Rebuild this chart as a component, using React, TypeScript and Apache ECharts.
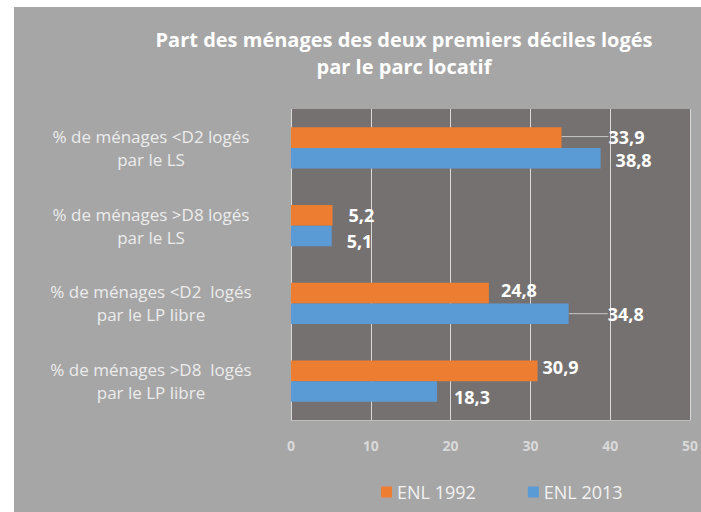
import React, { useEffect, useRef } from "react";
import * as echarts from "echarts";

const categories = [
  "% de ménages <D2 logés\npar le LS",
  "% de ménages >D8 logés\npar le LS",
  "% de ménages <D2  logés\npar le LP libre",
  "% de ménages >D8  logés\npar le LP libre",
];
const seriesNames = ["ENL 1992", "ENL 2013"];
const values1992 = [33.9, 5.2, 24.8, 30.9];
const values2013 = [38.8, 5.1, 34.8, 18.3];
const xTicks = { min: 0, max: 50, interval: 10 };
const titleText = "Part des ménages des deux premiers déciles logés\npar le parc locatif";

// label nudges (style only): [seriesIndex][dataIndex] -> [dx, dy]
const labelShift: number[][][] = [
  [[35, -1], [4, 0], [0, -3], [-7, -4]],
  [[3, 2], [3, 5], [27, 0], [5, 6]],
];
// which labels get a leader line (style only)
const leader: boolean[][] = [
  [true, false, false, false],
  [false, false, true, false],
];

export default function App() {
  const ref = useRef<HTMLDivElement>(null);
  useEffect(() => {
    if (!ref.current) return;
    const chart = echarts.init(ref.current, null, { renderer: "svg" });
    const fmt = (p: any) => Number(p.value).toFixed(1).replace(".", ",");
    const labelCommon = {
      show: true,
      position: "right" as const,
      distance: 12,
      color: "#ffffff",
      fontWeight: "bold" as const,
      fontSize: 18,
      fontFamily: "Open Sans",
      formatter: fmt,
    };
    const mkData = (vals: number[], si: number) =>
      vals.map((v, i) => ({
        value: v,
        labelLine: { show: leader[si][i] },
      }));
    const mkSeries = (si: number, vals: number[], color: string) => ({
      name: seriesNames[si],
      type: "bar",
      data: mkData(vals, si),
      itemStyle: { color },
      barGap: "0%",
      barCategoryGap: "47%",
      label: labelCommon,
      labelLine: { show: false, lineStyle: { color: "#c8c8c8", width: 1 } },
      labelLayout: (p: any) => {
        const s = labelShift[si][p.dataIndex];
        return { dx: s[0], dy: s[1] };
      },
    });
    chart.setOption({
      animation: false,
      backgroundColor: "transparent",
      graphic: [
        {
          type: "text",
          x: 390,
          y: 19,
          style: {
            text: titleText,
            fill: "#ffffff",
            font: "bold 20px 'Open Sans'",
            textAlign: "center",
            textVerticalAlign: "top",
            lineHeight: 27,
          },
        },
      ],
      legend: {
        data: seriesNames,
        left: 362,
        top: 471,
        icon: "rect",
        itemWidth: 11,
        itemHeight: 11,
        itemGap: 52,
        textStyle: { color: "#f2f2f2", fontSize: 18, fontFamily: "Open Sans" },
      },
      grid: {
        left: 277,
        right: 9,
        top: 102,
        bottom: 92,
        show: true,
        backgroundColor: "#767171",
        borderWidth: 0,
      },
      xAxis: {
        type: "value",
        min: xTicks.min,
        max: xTicks.max,
        interval: xTicks.interval,
        axisLine: { show: true, lineStyle: { color: "#bfbfbf", width: 1 } },
        axisTick: { show: false },
        axisLabel: {
          color: "#d9d9d9",
          fontSize: 14,
          fontWeight: "bold",
          fontFamily: "Open Sans",
          margin: 18,
        },
        splitLine: { show: true, lineStyle: { color: "#d9d9d9", width: 1 } },
      },
      yAxis: {
        type: "category",
        data: categories,
        inverse: true,
        axisLine: { show: false },
        axisTick: { show: false },
        axisLabel: {
          color: "#ececec",
          fontSize: 17,
          fontFamily: "Open Sans",
          align: "center",
          margin: 140,
          lineHeight: 23,
        },
      },
      series: [
        mkSeries(0, values1992, "#ED7D31"),
        mkSeries(1, values2013, "#5B9BD5"),
      ],
    });
    return () => chart.dispose();
  }, []);
  return (
    <div style={{ position: "fixed", left: 0, top: 0, width: 701, height: 512, background: "#ffffff" }}>
      <div
        ref={ref}
        style={{ position: "absolute", left: 14, top: 7, width: 687, height: 505, background: "#a6a6a6" }}
      />
    </div>
  );
}
